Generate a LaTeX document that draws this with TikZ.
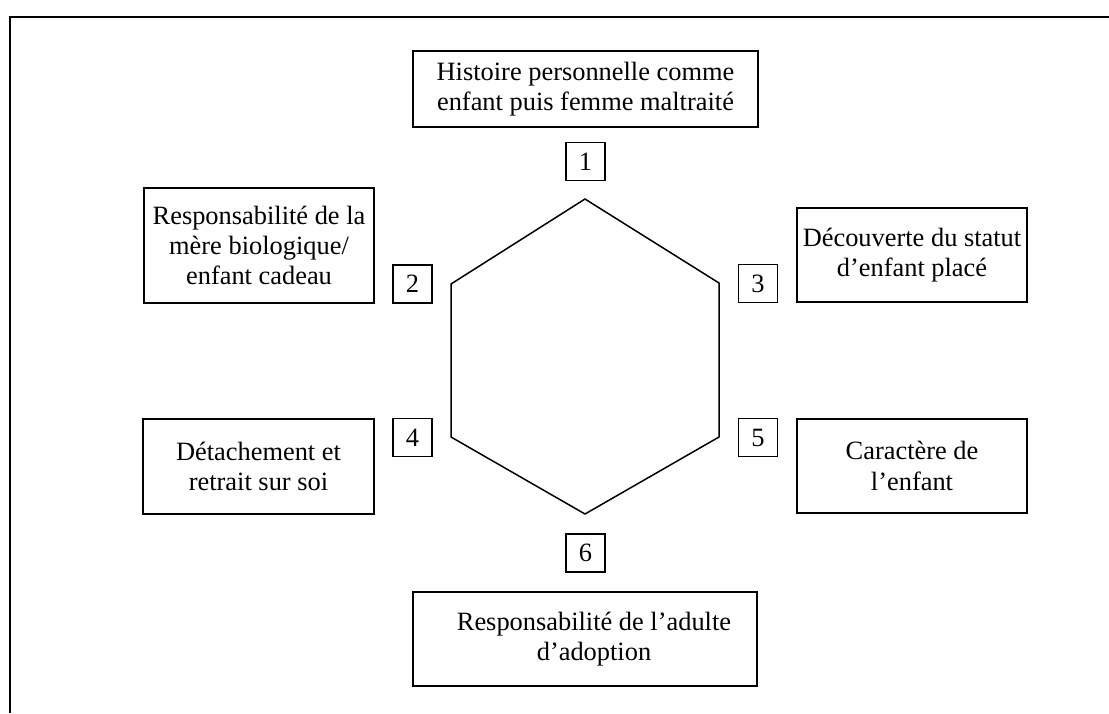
\documentclass[tikz,border=0pt]{standalone}
\usepackage{fontspec}
\setmainfont{Liberation Serif}
\usepackage{tikz}

\begin{document}
\begin{tikzpicture}[x=1pt,y=-1pt,
  txtbox/.style={draw,line width=1.8pt,align=center,inner sep=0pt,font=\fontsize{26.4}{30.4}\selectfont},
  numbox/.style={draw,line width=1.6pt,minimum width=39pt,minimum height=38pt,inner sep=0pt,font=\fontsize{26.4}{30.4}\selectfont}]
  \useasboundingbox (0,0) rectangle (1109,713);
  \draw[line width=2pt] (1109,16.5) -- (10,16.5) -- (10,713);
  % hexagone
  \draw[line width=1.5pt] (585,199) -- (719,283) -- (719,437) -- (585,514) -- (451,437) -- (451,284) -- cycle;
  % cases
  \node[txtbox,minimum width=345pt,minimum height=76pt] (hist) at (585.5,89) {Histoire personnelle comme\\enfant puis femme maltraité};
  \node[txtbox,minimum width=230pt,minimum height=115pt] (mere) at (259,245.5) {Responsabilité de la\\mère biologique/\\enfant cadeau};
  \node[txtbox,minimum width=230pt,minimum height=94pt] (statut) at (912,255) {Découverte du statut\\d’enfant placé};
  \node[txtbox,minimum width=231pt,minimum height=95pt] (detach) at (258.5,466.5) {Détachement et\\retrait sur soi};
  \node[txtbox,minimum width=230pt,minimum height=94pt] (carac) at (912,466) {Caractère de\\l’enfant};
  \node[txtbox,minimum width=344pt,minimum height=94pt] (adulte) at (585,639) {\hspace*{18pt}Responsabilité de l’adulte\\\hspace*{18pt}d’adoption};
  % numeros
  \node[numbox] (n1) at (585.5,161.5) {1};
  \node[numbox] (n2) at (412.5,284) {2};
  \node[numbox] (n3) at (758,283.5) {3};
  \node[numbox] (n4) at (412.5,437.5) {4};
  \node[numbox] (n5) at (758,437.5) {5};
  \node[numbox] (n6) at (585.5,553) {6};
\end{tikzpicture}
\end{document}
